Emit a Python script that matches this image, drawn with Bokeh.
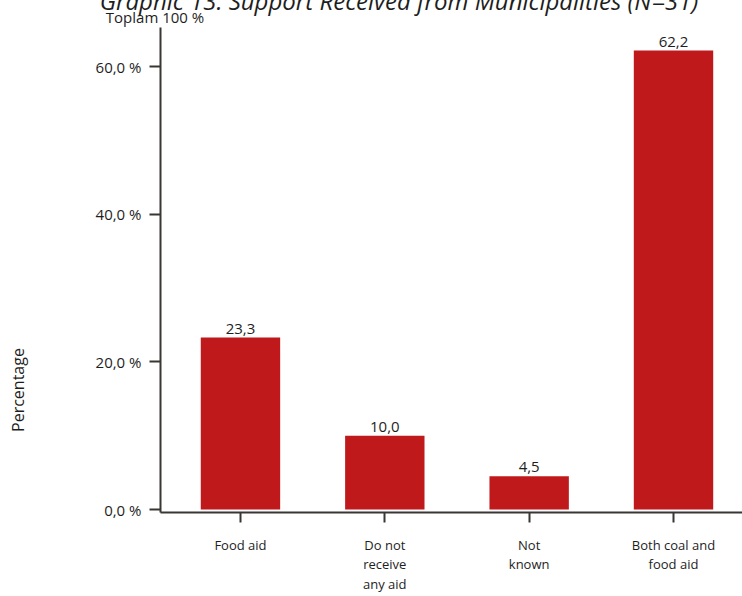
from bokeh.plotting import figure
from bokeh.models import ColumnDataSource, Range1d, FixedTicker, Div
from bokeh.layouts import column, row
from bokeh.embed import file_html
from bokeh.resources import INLINE
from bokeh.core.properties import value

# ---- data ----
categories = ["Food aid", "Do not\nreceive\nany aid", "Not\nknown", "Both coal and\nfood aid"]
percentages = [23.3, 10.0, 4.5, 62.2]
value_labels = ["23,3", "10,0", "4,5", "62,2"]
y_ticks = [0, 20, 40, 60]
y_tick_labels = ["0,0 %", "20,0 %", "40,0 %", "60,0 %"]
title_text = "Graphic 13: Support Received from Municipalities (N=31)"
subtitle_text = "Toplam 100 %"
y_axis_title = "Percentage"

BAR = "#C0191C"
AXIS = "#3a3634"
TXT = "#1e1e1e"
FONT = "Open Sans"

W, H = 742, 596
HEAD_H = 27
LEFT_W = 30

# ---- heading strip (title partly cut at the top, as in the reference) ----
head_html = (
    f'<div style="position:relative;width:{W}px;height:{HEAD_H}px;overflow:hidden;'
    f'font-family:\'{FONT}\';color:{TXT};">'
    f'<span style="position:absolute;left:399px;top:-16px;transform:translateX(-50%);'
    f'white-space:nowrap;font-size:24px;font-style:italic;line-height:normal;">{title_text}</span>'
    f'<span style="position:absolute;left:155px;top:7px;transform:translateX(-50%);'
    f'white-space:nowrap;font-size:15px;line-height:normal;">{subtitle_text}</span>'
    f'</div>'
)
head = Div(text=head_html, width=W, height=HEAD_H, margin=0)

# ---- vertical axis title strip ----
side_h = H - HEAD_H
side_html = (
    f'<div style="position:relative;width:{LEFT_W}px;height:{side_h}px;overflow:visible;'
    f'font-family:\'{FONT}\';color:{TXT};">'
    f'<span style="position:absolute;left:18px;top:{390 - HEAD_H}px;'
    f'transform:translate(-50%,-50%) rotate(-90deg);white-space:nowrap;'
    f'font-size:16px;line-height:normal;">{y_axis_title}</span>'
    f'</div>'
)
side = Div(text=side_html, width=LEFT_W, height=side_h, margin=0)

# ---- main chart ----
positions = list(range(1, len(categories) + 1))
src = ColumnDataSource(dict(x=positions, top=percentages, label=value_labels))

p = figure(width=W - LEFT_W, height=side_h, output_backend="svg", toolbar_location=None,
           x_range=Range1d(0.446, 4.478), y_range=Range1d(-0.4, 65.32),
           min_border_left=160 - LEFT_W, min_border_right=0, min_border_top=0,
           min_border_bottom=84, margin=0)
p.background_fill_color = "white"
p.border_fill_color = "white"
p.outline_line_color = None
p.xgrid.visible = False
p.ygrid.visible = False

p.vbar(x="x", top="top", bottom=0, width=0.55, source=src,
       fill_color=BAR, line_color=None)
p.text(x="x", y="top", text="label", source=src, text_align="center",
       text_baseline="bottom", y_offset=-4, text_font=value(FONT),
       text_font_size="15px", text_color=TXT)

# x axis
xa = p.xaxis[0]
xa.ticker = FixedTicker(ticks=positions)
xa.major_label_overrides = {pos: c for pos, c in zip(positions, categories)}
xa.axis_line_color = AXIS
xa.axis_line_width = 2
xa.major_tick_line_color = AXIS
xa.major_tick_line_width = 2
xa.major_tick_in = 0
xa.major_tick_out = 10
xa.minor_tick_line_color = None
xa.major_label_standoff = 13
xa.major_label_text_font = FONT
xa.major_label_text_font_size = "13px"
xa.major_label_text_color = TXT
xa.major_label_text_line_height = 1.1

# y axis
ya = p.yaxis[0]
ya.ticker = FixedTicker(ticks=y_ticks)
ya.major_label_overrides = {t: l for t, l in zip(y_ticks, y_tick_labels)}
ya.axis_line_color = AXIS
ya.axis_line_width = 2
ya.major_tick_line_color = AXIS
ya.major_tick_line_width = 2
ya.major_tick_in = 0
ya.major_tick_out = 11
ya.minor_tick_line_color = None
ya.major_label_standoff = 8
ya.major_label_text_font = FONT
ya.major_label_text_font_size = "15px"
ya.major_label_text_color = TXT

layout = column(head, row(side, p, spacing=0), spacing=0)
open("out.html", "w").write(file_html(layout, INLINE))
